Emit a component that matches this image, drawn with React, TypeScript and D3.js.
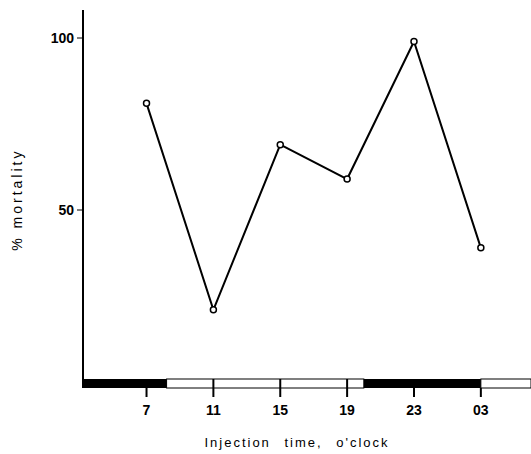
import * as d3 from "d3";

const W = 531;
const H = 454;

// injection time in hours (03 next day = 27)
const hours = [7, 11, 15, 19, 23, 27];
const mortality = [81, 21, 69, 59, 99, 39];
const tickLabels = ["7", "11", "15", "19", "23", "03"];
const yTicks = [50, 100];
// light/dark periods on the time bar
const darkPeriods = [[3.2, 8.2], [20, 27]];
const lightPeriods = [[8.2, 20], [27, 31]];

export default function App() {
    const x = d3.scaleLinear().domain([3.2, 30]).range([83, 531]);
    const y = d3.scaleLinear().domain([0, 100]).range([382, 38]);
    const line = d3
        .line<number>()
        .x((_, i) => x(hours[i]))
        .y((d) => y(d));

    const barTop = 379;
    const barBot = 388;
    const font = "'Liberation Sans', Arial, sans-serif";

    return (
        <svg
            width={W}
            height={H}
            style={{ position: "absolute", left: 0, top: 0, background: "#fff" }}
        >
            {/* y axis */}
            <line x1={83} x2={83} y1={10} y2={barBot} stroke="#000" strokeWidth={2} />
            {yTicks.map((t) => (
                <g key={t}>
                    <line x1={77} x2={83} y1={y(t)} y2={y(t)} stroke="#000" strokeWidth={1} />
                    <text
                        x={74}
                        y={y(t)}
                        dy="0.35em"
                        textAnchor="end"
                        fontFamily={font}
                        fontWeight="bold"
                        fontSize={14}
                    >
                        {t}
                    </text>
                </g>
            ))}
            <text
                transform={`translate(22,${y(53)}) rotate(-90)`}
                textAnchor="middle"
                fontFamily={font}
                fontSize={14}
                letterSpacing={3}
            >
                % mortality
            </text>

            {/* light/dark bar */}
            {lightPeriods.map(([a, b], i) => (
                <rect
                    key={"l" + i}
                    x={x(a)}
                    y={barTop}
                    width={Math.min(x(b), W) - x(a)}
                    height={barBot - barTop}
                    fill="#fff"
                    stroke="#000"
                    strokeWidth={1}
                />
            ))}
            {darkPeriods.map(([a, b], i) => (
                <rect
                    key={"d" + i}
                    x={x(a)}
                    y={barTop}
                    width={x(b) - x(a)}
                    height={barBot - barTop}
                    fill="#000"
                />
            ))}

            {/* x ticks */}
            {hours.map((h, i) => (
                <g key={h}>
                    <line
                        x1={x(h)}
                        x2={x(h)}
                        y1={h > 8 && h < 20 ? barTop : barBot}
                        y2={397}
                        stroke="#000"
                        strokeWidth={2}
                    />
                    <text
                        x={x(h)}
                        y={410}
                        dy="0.35em"
                        textAnchor="middle"
                        fontFamily={font}
                        fontWeight="bold"
                        fontSize={14}
                    >
                        {tickLabels[i]}
                    </text>
                </g>
            ))}
            <text
                x={297}
                y={442}
                dy="0.35em"
                textAnchor="middle"
                fontFamily={font}
                fontSize={13}
                letterSpacing={2}
                wordSpacing={8}
            >
                Injection time, o'clock
            </text>

            {/* data */}
            <path d={line(mortality) ?? ""} fill="none" stroke="#000" strokeWidth={2} />
            {mortality.map((m, i) => (
                <circle
                    key={i}
                    cx={x(hours[i])}
                    cy={y(m)}
                    r={3}
                    fill="#fff"
                    stroke="#000"
                    strokeWidth={1.5}
                />
            ))}
        </svg>
    );
}
